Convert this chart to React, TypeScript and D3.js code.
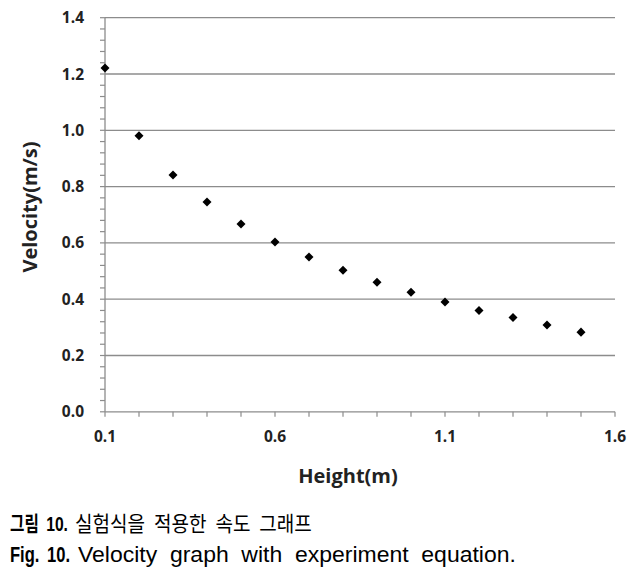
import React, { useLayoutEffect, useRef, useState } from "react";
import * as d3 from "d3";

const heights = [0.1, 0.2, 0.3, 0.4, 0.5, 0.6, 0.7, 0.8, 0.9, 1.0, 1.1, 1.2, 1.3, 1.4, 1.5];
const velocities = [1.221, 0.981, 0.841, 0.745, 0.667, 0.603, 0.55, 0.503, 0.46, 0.425, 0.39, 0.36, 0.335, 0.308, 0.283];
const xTicks = [0.1, 0.6, 1.1, 1.6];
const yTicks = [0.0, 0.2, 0.4, 0.6, 0.8, 1.0, 1.2, 1.4];
const xTitle = "Height(m)";
const yTitle = "Velocity(m/s)";
const captionKo = ["그림 10.", "실험식을 적용한 속도 그래프"];
const captionEn = ["Fig. 10.", "Velocity graph with experiment equation."];

const capFont = "'Liberation Sans', 'Noto Sans CJK KR', sans-serif";

function FitText(props: { x: number; y: number; width: number; size: number; bold?: boolean; wordSpacing?: number; children: string }) {
  const ref = useRef<SVGTextElement>(null);
  const [s, setS] = useState(1);
  useLayoutEffect(() => {
    if (ref.current) {
      const w = ref.current.getBBox().width;
      if (w > 0) setS(props.width / w);
    }
  }, [props.width, props.children]);
  return (
    <text
      ref={ref}
      transform={`translate(${props.x},${props.y}) scale(${s},1)`}
      fontFamily={capFont}
      fontSize={props.size}
      fontWeight={props.bold ? "bold" : "normal"}
      wordSpacing={props.wordSpacing || 0}
      fill="#000"
    >
      {props.children}
    </text>
  );
}

export default function App() {
  const W = 644, H = 573;
  const x = d3.scaleLinear().domain([0.1, 1.6]).range([105, 615]);
  const y = d3.scaleLinear().domain([0, 1.4]).range([411.8, 17.7]);
  const minorY = d3.range(0, 1.4001, 0.04);
  const minorX = d3.range(0.1, 1.6001, 0.1);
  const font = "'Open Sans', 'Noto Sans', sans-serif";
  const diamond = d3.symbol().type(d3.symbolDiamond2).size(52)();
  const grid = "#8c8c8c";
  return (
    <svg width={W} height={H} style={{ position: "absolute", left: 0, top: 0 }}>
      <rect width={W} height={H} fill="#fff" />
      {yTicks.map((t) => (
        <line key={"g" + t} x1={x(0.1)} x2={x(1.6)} y1={y(t)} y2={y(t)} stroke={grid} strokeWidth={1.3} />
      ))}
      {minorY.map((t, i) => (
        <line key={"my" + i} x1={x(0.1) - 5} x2={x(0.1)} y1={y(t)} y2={y(t)} stroke={grid} strokeWidth={1.2} />
      ))}
      {minorX.map((t, i) => (
        <line key={"mx" + i} x1={x(t)} x2={x(t)} y1={y(0)} y2={y(0) + 5} stroke={grid} strokeWidth={1.2} />
      ))}
      <line x1={x(0.1)} x2={x(0.1)} y1={y(1.4)} y2={y(0)} stroke={grid} strokeWidth={1.3} />
      {yTicks.map((t) => (
        <text key={"yl" + t} x={84} y={y(t)} dy="0.36em" textAnchor="end" fontFamily={font} fontWeight="bold" fontSize={15.5} fill="#222">
          {t.toFixed(1)}
        </text>
      ))}
      {xTicks.map((t) => (
        <text key={"xl" + t} x={x(t)} y={442} textAnchor="middle" fontFamily={font} fontWeight="bold" fontSize={15.5} fill="#222">
          {t.toFixed(1)}
        </text>
      ))}
      <text x={348} y={483} textAnchor="middle" fontFamily={font} fontWeight="bold" fontSize={20} fill="#222">
        {xTitle}
      </text>
      <text transform={`translate(37,207) rotate(-90)`} textAnchor="middle" fontFamily={font} fontWeight="bold" fontSize={20} fill="#222">
        {yTitle}
      </text>
      {heights.map((h, i) => (
        <path key={"p" + i} d={diamond as string} transform={`translate(${x(h)},${y(velocities[i])})`} fill="#000" />
      ))}
      <FitText x={10} y={531} width={58} size={21} bold wordSpacing={4}>{captionKo[0]}</FitText>
      <FitText x={75} y={531} width={237} size={21} wordSpacing={4}>{captionKo[1]}</FitText>
      <FitText x={10} y={562} width={60} size={22} bold wordSpacing={4}>{captionEn[0]}</FitText>
      <FitText x={78} y={562} width={438} size={22} wordSpacing={6}>{captionEn[1]}</FitText>
    </svg>
  );
}
